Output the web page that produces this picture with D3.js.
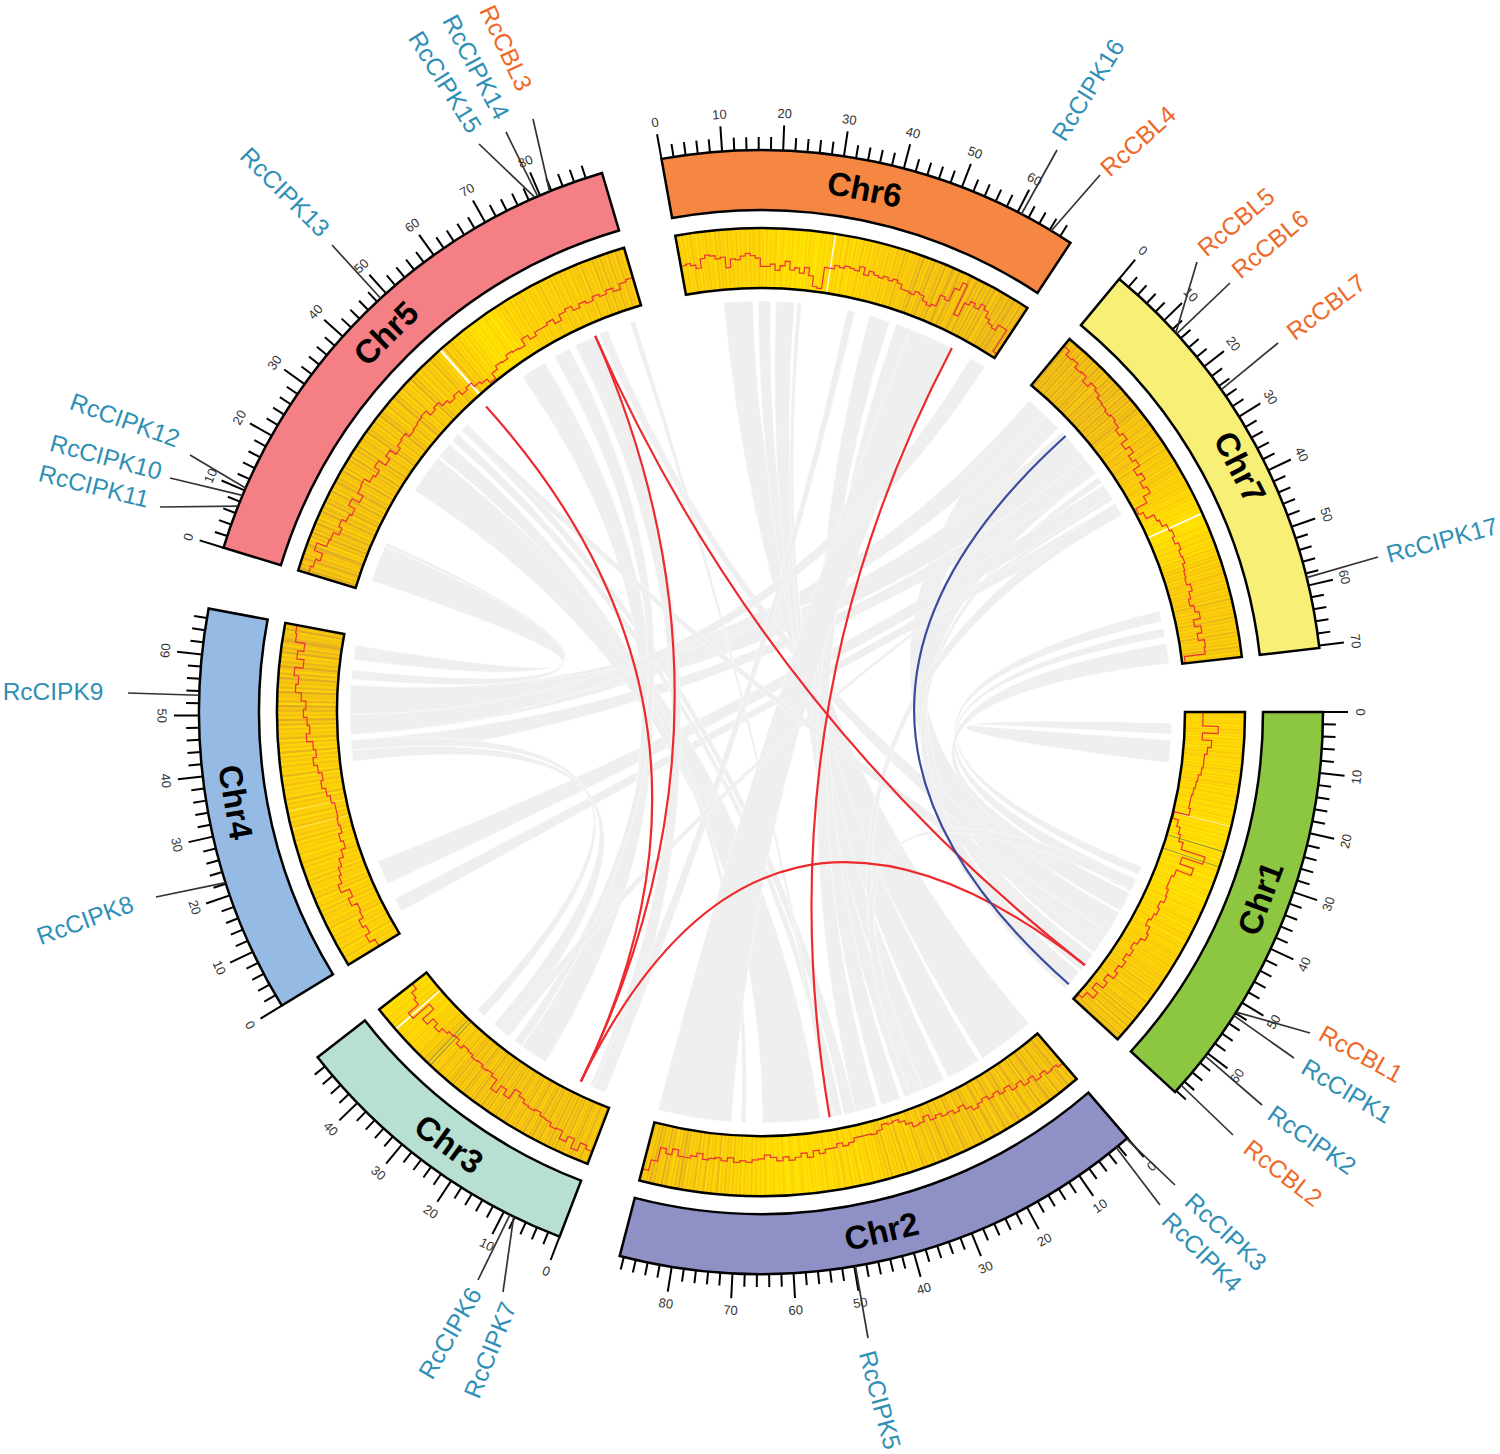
<!DOCTYPE html>
<html><head><meta charset="utf-8">
<script src="https://cdn.jsdelivr.net/npm/d3@7"></script>
<style>html,body{margin:0;padding:0;background:#fff}svg{display:block}text{font-family:"Liberation Sans",Arial,sans-serif}</style>
</head><body><svg id="c" width="1500" height="1454"></svg>
<script>
const chrNames=["Chr1","Chr2","Chr3","Chr4","Chr5","Chr6","Chr7"];
const chrLengths=[68.3,88.7,49.9,67.6,90.8,70,70.4];
const chrLastTick=[68,88,48,66,88,68,70];
const chrColors=["#8dc641","#8f91c6","#b8e0d2","#95bbe5","#f47f85","#f58743","#f8ef76"];
const chrStartDeg=[90,139.3,201,238.5,287,349.8,399.6];
const degPerMb=0.623;

const lineChr1=[.30,.30,.56,.30,.46,.40,.36,.36,.34,.30,.28,.26,.24,.24,.27,.02,.12,.18,.22,.30,.72,.36,.60,.34,.30,.30,.34,.36,.30,.34,.30,.26,.34,.38,.30,.24,.30,.24,.30,.24,.30,.18,.26,.12,.24,.10,.02];
const lineChr2=[.65,.6,.62,.55,.6,.5,.55,.45,.5,.4,.45,.38,.42,.36,.4,.45,.38,.3,.36,.3,.32,.26,.3,.2,.28,.3,.22,.15,.1,.12,.1,.18,.22,.2,.2,.2,.26,.3,.24,.3,.3,.36,.3,.4,.32,.38,.42,.36,.42,.36,.32,.38,.4,.44,.42,.45,.38,.44,.4,.42,.45,.36,.42,.46,.46,.36,.46,.38,.62,.8];
const lineChr3=[.78,.72,.86,.7,.8,.66,.68,.62,.6,.55,.58,.56,.5,.44,.62,.52,.66,.48,.44,.46,.42,.44,.4,.38,.44,.36,.38,.42,.5,.42,.55,.3,.66,.44,.4,.3];
const lineChr4=[.40,.5,.42,.48,.4,.38,.48,.4,.55,.48,.44,.38,.3,.22,.26,.2,.22,.2,.2,.25,.3,.36,.32,.38,.44,.38,.42,.52,.46,.5,.56,.52,.6,.7,.66,.74,.6,.72,.62,.78,.8];
const lineChr5=[.82,.78,.7,.85,.68,.66,.56,.62,.54,.5,.62,.48,.58,.6,.5,.46,.56,.42,.5,.38,.44,.46,.38,.4,.42,.44,.34,.38,.3,.24,.28,.2,.24,.16,.12,.04,.14,.2,.18,.24,.22,.2,.32,.24,.3,.3,.34,.26,.36,.4,.32,.38,.34,.4,.36,.42,.36,.45,.48];
const lineChr6=[.48,.5,.46,.4,.55,.6,.58,.52,.54,.36,.5,.48,.54,.58,.54,.5,.36,.36,.4,.3,.38,.46,.32,.36,.28,.38,.25,.08,.06,.42,.42,.48,.46,.5,.48,.46,.54,.42,.5,.46,.44,.48,.44,.48,.44,.36,.36,.34,.4,.38,.3,.26,.3,.5,.46,.7,.84,.3,.55,.62,.56,.66,.6,.5,.44,.4,.5,.5,.08];
const lineChr7=[.85,.76,.78,.7,.72,.62,.7,.66,.6,.58,.55,.58,.55,.48,.54,.42,.5,.4,.46,.34,.42,.32,.38,.25,.04,.12,.26,.3,.38,.42,.38,.44,.4,.42,.38,.36,.34,.4,.34,.3,.36,.42,.3,.4,.32,.42,.4,.05];
const stepLines=[lineChr1,lineChr2,lineChr3,lineChr4,lineChr5,lineChr6,lineChr7];

const heatChr1="4535243514263524153342514362453324152634152433625143253142351243132514213412312403213142031231402312134122301423120321413023124132513241435243152436254135263425364526354736452637465374563847564735846573648573946857493685749586";
const heatChr2="7685796857694768598675948675796584769587468597648579657486957684758694675847695748673856475836274635827364528374625341634251362415324613524123514231324131243112431024132142312514235162435162537264736285374628547385647386958473685947586958476";
const heatChr3="6847596748596857496875948679586749685796847596857495867486957684958674958679485769584758694758674958673856475846374536475836374526352635142534152413623514251324124";
const heatChr4="4536452735463645274635463736452746354637264536374526354627364537462745364728354637462835473647283647385647385947586938576948576958479685749685798675968";
const heatChr5="7968579685768957486958679584769587496857694857968576948576859476859476857496857485749685738574695847385647395847366475638574635748364735263415241302130214130231425362435263546253645364735463746537465374657385647385748574857486749";
const heatChr6="4536253745263546354273645263543625345263542634151423512341231402312031423102314132513425136241524362536254635463746375648574657486957486957686957698579685769857968596859697586978697897869788";
const heatChr7="7968796879586968795869786957697859687968597869586879685768576857486758476857385647564736574635463546352435241324131203120214213423514251635264736473647564736574657385647465748574657485746574857465";
const heatStrings=[heatChr1,heatChr2,heatChr3,heatChr4,heatChr5,heatChr6,heatChr7];

const whiteLineChr=[0,2,4,5,6,3,3];
const whiteLinePos=[22,45,50.5,30.6,42,28,31.5];
const whiteLineWeight=[.5,1,1.4,.8,1,.35,.35];
const darkLineChr=[0,0,2,2];
const darkLinePos=[27,30,35.5,36.2];

const geneNames=["RcCBL1","RcCIPK1","RcCIPK2","RcCBL2","RcCIPK3","RcCIPK4","RcCIPK5","RcCIPK7","RcCIPK6","RcCIPK8","RcCIPK9","RcCIPK11","RcCIPK10","RcCIPK12","RcCIPK13","RcCIPK15","RcCIPK14","RcCBL3","RcCIPK16","RcCBL4","RcCBL5","RcCBL6","RcCBL7","RcCIPK17"];
const geneChr=[0,0,0,0,1,1,1,2,2,3,3,4,4,4,4,4,4,4,5,5,6,6,6,6];
const genePos=[51.8,52.5,60.6,66.8,0.2,2.4,49.8,8.2,8.9,22.2,53.3,7.2,9.1,10.4,48.8,79.1,79.6,81.7,60.7,66.3,12.8,13,24.7,58.7];
// leader end x, leader end y, label centre x, label centre y, label rotation
const geneLayout=[[1310,1033,1361,1054,29],[1294,1058,1347,1091,31],[1262,1105,1312,1140,35],[1233,1135,1283,1173,38],[1175,1185,1226,1232,43],[1160,1205,1202,1252,45],[868,1338,880,1400,75],[503,1292,490,1350,-68],[478,1280,450,1333,-60],[156,897,85,920,-20],[128,693,53,691,0],[160,507,94,486,14],[170,478,106,457,15],[190,455,125,420,20],[332,245,285,192,45],[479,144,445,82,58],[506,132,476,67,62],[533,119,506,48,65],[1057,150,1088,90,-58],[1100,175,1138,141,-42],[1197,262,1236,222,-40],[1230,283,1270,244,-40],[1278,343,1326,307,-37],[1378,557,1442,540,-15]];
const labelShiftDeg=[-.8,0,-.7,.7,0,-.4,1.4];
const labelRadius=[533,533,533,533,533,533,538];
const cblColor="#ee6a2a",cipkColor="#2f8fb5";

// grey links: chrA, fromA, toA, chrB, fromB, toB
const greyLinks=[
[0,2.5,5,0,6.3,11.4],
[6,58,60.5,0,35.5,37.5],[6,62,64,0,38.5,41.5],[6,65.5,70,0,42,46.5],
[6,1.8,10.8,0,47,57.5],[6,12,24,0,58,62.5],[6,25,26.5,0,63,67.9],
[4,2.6,10.9,3,62.3,65.6],[4,11,11.8,3,57.9,60],
[6,1.8,7,3,45.5,56.6],[6,12,20,3,50,56.6],[6,20,24,3,39.5,44.3],
[3,4,7.2,6,32,35],[3,10.9,16.4,6,27,31],
[4,25,34,1,52,65],[4,34.5,38,1,68.7,69.8],[4,39,41,1,47,49],[4,42,44,1,44,46.6],
[2,27.6,31.4,3,39.5,42],[2,34.2,36.3,3,42,44.3],
[4,60.2,66.2,2,17,23.3],[4,68.7,72.6,2,23.5,25.5],[4,74,79,2,1.9,5.8],[4,80,82,0,47,52],[4,87.3,88.5,1,49,50],
[5,8,14.6,1,0,13],[5,15.7,18.6,1,14,21.8],[5,19.7,23.9,1,22.8,28],[5,24.5,25.5,1,28.6,32.6],
[5,35.8,37.6,2,2,5],[5,40.9,45.7,1,33.5,38],[5,47.2,50.7,1,39,44],[5,50.7,60.8,1,72,88.6],[5,65.5,69.3,3,45.5,50],
[6,32,35,1,28.6,31],[0,52,55,4,42.2,44],[0,38.5,41,1,28,31],[6,30,31,2,27,29]
];
// coloured links: chrA, posA, chrB, posB
const redLinks=[[4,79,2,8],[4,49.8,2,8],[2,8,0,61],[4,79,0,61],[5,60.8,1,49.9]];
const blueLinks=[[6,13.2,0,66.6]];

const cx=761,cy=712;
const R={out:562,ringIn:502,heatOut:484,heatIn:424,link:411};
const rad=d=>d*Math.PI/180;
const scales=chrLengths.map((l,i)=>d3.scaleLinear().domain([0,l]).range([chrStartDeg[i],chrStartDeg[i]+l*degPerMb]));
const ang=(c,p)=>rad(scales[c](p));
const polar=(a,r)=>[r*Math.sin(a),-r*Math.cos(a)];

const svg=d3.select("#c");
const g=svg.append("g").attr("transform",`translate(${cx},${cy})`);
const ribbon=d3.ribbon().radius(R.link);
g.append("g").selectAll("path").data(greyLinks).join("path")
 .attr("d",d=>ribbon({source:{startAngle:ang(d[0],d[1]),endAngle:ang(d[0],d[2])},target:{startAngle:ang(d[3],d[4]),endAngle:ang(d[3],d[5])}}))
 .attr("fill","#efefef").attr("stroke","#fff").attr("stroke-width",0.5);

const curve=d=>{const p=d3.path();const a=polar(ang(d[0],d[1]),R.link),b=polar(ang(d[2],d[3]),R.link);p.moveTo(a[0],a[1]);p.quadraticCurveTo(0,0,b[0],b[1]);return p.toString();};
g.append("g").selectAll("path").data(redLinks).join("path").attr("d",curve).attr("fill","none").attr("stroke","#ed2a2e").attr("stroke-width",2.2);
g.append("g").selectAll("path").data(blueLinks).join("path").attr("d",curve).attr("fill","none").attr("stroke","#3a4a9f").attr("stroke-width",2.2);

const heatColor=d3.scaleLinear().domain([0,4,7,9]).range(["#ffe800","#fdd208","#f4c012","#e0ab24"]);
const arc=d3.arc();
const flip=deg=>{let d=((deg%360)+360)%360;if(d>90&&d<=270)return d-180;if(d>270)return d-360;return d;};
chrNames.forEach((name,i)=>{
  const a0=ang(i,0),a1=ang(i,chrLengths[i]);
  const gc=g.append("g");
  const digits=Array.from(heatStrings[i]).map(Number);
  const bin=d3.scaleLinear().domain([0,digits.length]).range([a0,a1]);
  gc.append("path").attr("d",arc({innerRadius:R.heatIn,outerRadius:R.heatOut,startAngle:a0,endAngle:a1})).attr("fill","#fbcb0c");
  gc.selectAll("path.s").data(digits).join("path").attr("class","s")
    .attr("d",(d,k)=>arc({innerRadius:R.heatIn,outerRadius:R.heatOut,startAngle:bin(k),endAngle:Math.min(a1,bin(k+1)+0.0006)}))
    .attr("fill",d=>heatColor(d));
  whiteLineChr.forEach((c,k)=>{if(c!==i)return;const a=ang(c,whiteLinePos[k]),w=0.002*whiteLineWeight[k];
    gc.append("path").attr("d",arc({innerRadius:R.heatIn,outerRadius:R.heatOut,startAngle:a-w,endAngle:a+w})).attr("fill","#fffce8").attr("opacity",Math.min(1,whiteLineWeight[k]+.2));});
  darkLineChr.forEach((c,k)=>{if(c!==i)return;const a=ang(c,darkLinePos[k]);
    gc.append("path").attr("d",arc({innerRadius:R.heatIn,outerRadius:R.heatOut,startAngle:a-0.001,endAngle:a+0.001})).attr("fill","#8a8a50");});
  const vals=stepLines[i];
  const lb=d3.scaleLinear().domain([0,vals.length]).range([a0,a1]);
  const lr=d3.scaleLinear().domain([0,1]).range([R.heatIn,R.heatOut]);
  const p=d3.path();
  vals.forEach((v,k)=>{const r=lr(v),s=lb(k)-Math.PI/2,e=lb(k+1)-Math.PI/2;
    const q=polar(lb(k),r);
    if(k===0)p.moveTo(q[0],q[1]);else p.lineTo(q[0],q[1]);
    p.arc(0,0,r,s,e,false);});
  gc.append("path").attr("d",p.toString()).attr("fill","none").attr("stroke","#ec3237").attr("stroke-width",1.2);
  gc.append("path").attr("d",arc({innerRadius:R.heatIn,outerRadius:R.heatOut,startAngle:a0,endAngle:a1})).attr("fill","none").attr("stroke","#000").attr("stroke-width",2.5);
  gc.append("path").attr("d",arc({innerRadius:R.ringIn,outerRadius:R.out,startAngle:a0,endAngle:a1})).attr("fill",chrColors[i]).attr("stroke","#000").attr("stroke-width",2.5);
  const tv=d3.range(0,chrLastTick[i]+1,2);
  gc.selectAll("line.t").data(tv).join("line").attr("class","t")
    .each(function(t){const a=ang(i,t),u=polar(a,R.out),v=polar(a,R.out+(t%10===0?25:13));
      d3.select(this).attr("x1",u[0]).attr("y1",u[1]).attr("x2",v[0]).attr("y2",v[1]);})
    .attr("stroke","#000").attr("stroke-width",2);
  gc.selectAll("text.l").data(tv.filter(t=>t%10===0)).join("text").attr("class","l")
    .attr("transform",t=>{const u=polar(ang(i,t),R.out+37);return `translate(${u[0]},${u[1]}) rotate(${flip(scales[i](t))})`;})
    .attr("text-anchor","middle").attr("dominant-baseline","central").attr("font-size",13).attr("fill","#333").text(t=>t);
  const mid=(scales[i](0)+scales[i](chrLengths[i]))/2+labelShiftDeg[i],mp=polar(rad(mid),labelRadius[i]);
  gc.append("text").attr("transform",`translate(${mp[0]},${mp[1]}) rotate(${flip(mid)})`)
    .attr("text-anchor","middle").attr("dominant-baseline","central").attr("font-size",33).attr("font-weight","bold").attr("fill","#000").text(name);
});
const labelLayer=svg.append("g");
geneNames.forEach((n,i)=>{
  const s=polar(ang(geneChr[i],genePos[i]),R.out),L=geneLayout[i];
  labelLayer.append("line").attr("x1",s[0]+cx).attr("y1",s[1]+cy).attr("x2",L[0]).attr("y2",L[1]).attr("stroke","#333").attr("stroke-width",1.7);
  labelLayer.append("text").attr("transform",`translate(${L[2]},${L[3]}) rotate(${L[4]})`).attr("text-anchor","middle").attr("dominant-baseline","central")
    .attr("font-size",24.5).attr("fill",n.includes("CBL")?cblColor:cipkColor).text(n);
});
</script></body></html>
